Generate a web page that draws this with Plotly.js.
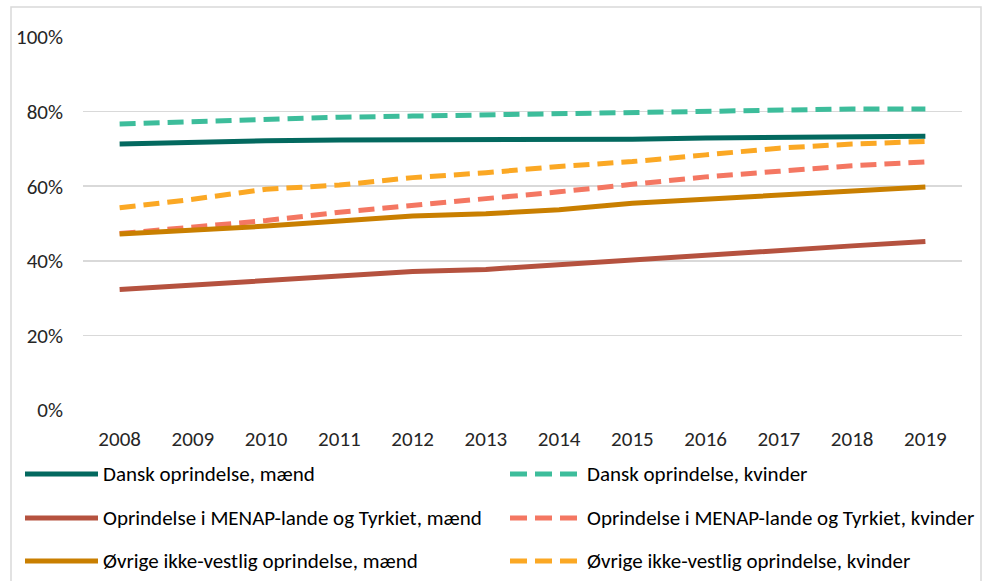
<!DOCTYPE html>
<html>
<head>
<meta charset="utf-8">
<script src="https://cdn.plot.ly/plotly-3.0.1.min.js"></script>
<style>html,body{margin:0;padding:0;background:#fff;}#chart{width:987px;height:581px;}</style>
</head>
<body>
<div id="chart"></div>
<script>
const years = ['2008','2009','2010','2011','2012','2013','2014','2015','2016','2017','2018','2019'];
const danskMaend = [71.3, 71.8, 72.2, 72.4, 72.4, 72.4, 72.5, 72.6, 72.9, 73.1, 73.3, 73.4];
const danskKvinder = [76.7, 77.4, 78.0, 78.5, 78.8, 79.1, 79.5, 79.9, 80.3, 80.6, 80.7, 80.7];
const menapMaend = [32.3, 33.5, 34.6, 35.8, 37.1, 37.7, 39.0, 40.4, 41.5, 43.0, 44.0, 45.2];
const menapKvinder = [47.3, 49.0, 50.8, 53.0, 54.8, 56.5, 58.5, 60.5, 62.5, 64.0, 65.5, 66.5];
const oevrigeMaend = [47.2, 48.2, 49.3, 50.7, 52.0, 52.6, 53.7, 55.4, 56.5, 57.6, 58.8, 59.8];
const oevrigeKvinder = [54.2, 56.5, 59.2, 60.3, 62.3, 63.6, 65.3, 66.6, 68.4, 70.2, 71.3, 72.0];
const seriesNames = ['Dansk oprindelse, mænd','Dansk oprindelse, kvinder','Oprindelse i MENAP-lande og Tyrkiet, mænd','Oprindelse i MENAP-lande og Tyrkiet, kvinder','Øvrige ikke-vestlig oprindelse, mænd','Øvrige ikke-vestlig oprindelse, kvinder'];
const yTickVals = [0, 20, 40, 60, 80, 100];
const yTickText = ['0%','20%','40%','60%','80%','100%'];

const colors = ['#03695F','#3DBD9B','#B5523F','#F47762','#C97F00','#FBA824'];
const dashed = [false,true,false,true,false,true];
const data = [danskMaend, danskKvinder, menapMaend, menapKvinder, oevrigeMaend, oevrigeKvinder];
const FONT = 'Carlito, Calibri, "Liberation Sans Narrow", "Liberation Sans", sans-serif';

const traces = data.map((d,i)=>({
  x: years, y: d, type:'scatter', mode:'lines', name: seriesNames[i],
  line:{color:colors[i], width:5, dash: dashed[i] ? '16px,8px' : 'solid'},
  showlegend:false, hoverinfo:'skip'
}));

// plot area in pixels: x 83..962, y 37..410
const L=83, R=962, T=37, B=410;
const px = x => (x-L)/(R-L);
const py = y => (B-y)/(B-T);

const shapes = [{type:'rect', xref:'paper', yref:'paper', x0:px(11), x1:px(981), y0:py(600), y1:py(7), line:{color:'#d9d9d9', width:1.5}, layer:'below'}];
const annotations = [];
const rowsY = [474, 518, 561];
for (let i=0;i<6;i++){
  const row = Math.floor(i/2), col = i%2;
  const yy = py(rowsY[row]);
  if (col===0){
    shapes.push({type:'line', xref:'paper', yref:'paper', x0:px(25), x1:px(98), y0:yy, y1:yy, line:{color:colors[i], width:5}});
    annotations.push({xref:'paper', yref:'paper', x:px(101), y:yy, xanchor:'left', yanchor:'middle', text:seriesNames[i], showarrow:false, font:{family:FONT, size:21, color:'#000'}});
  } else {
    shapes.push({type:'line', xref:'paper', yref:'paper', x0:px(510), x1:px(577), y0:yy, y1:yy, line:{color:colors[i], width:5, dash:'17px,8px'}});
    annotations.push({xref:'paper', yref:'paper', x:px(585), y:yy, xanchor:'left', yanchor:'middle', text:seriesNames[i], showarrow:false, font:{family:FONT, size:21, color:'#000'}});
  }
}

const layout = {
  width:987, height:581,
  margin:{l:L, r:987-R, t:T, b:581-B, pad:0},
  paper_bgcolor:'#fff', plot_bgcolor:'#fff',
  font:{family:FONT, size:21, color:'#262626'},
  showlegend:false,
  xaxis:{type:'category', range:[-0.5, 11.5], showgrid:false, showline:false, zeroline:false, ticks:'', ticklen:0, ticklabelstandoff:14, tickfont:{family:FONT, size:21, color:'#262626'}, fixedrange:true},
  yaxis:{range:[0,100], tickvals:yTickVals, ticktext:yTickText, showgrid:true, gridcolor:'#d9d9d9', gridwidth:1.5, zeroline:false, showline:false, ticks:'', ticklabelstandoff:19, tickfont:{family:FONT, size:21, color:'#262626'}, fixedrange:true},
  shapes: shapes,
  annotations: annotations
};

Plotly.newPlot('chart', traces, layout, {displayModeBar:false, staticPlot:true});
</script>
</body>
</html>
